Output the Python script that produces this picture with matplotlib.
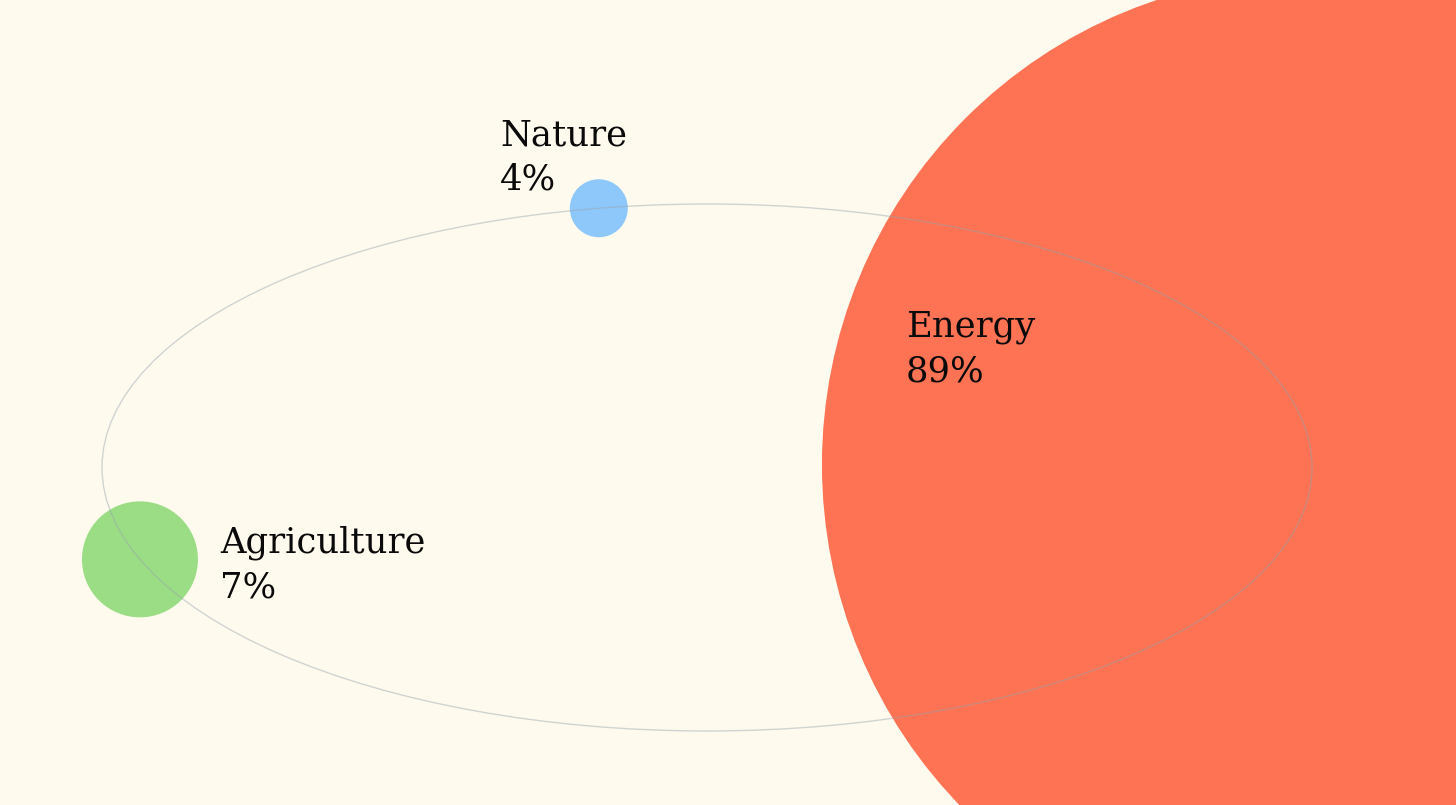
import numpy as np
import matplotlib.pyplot as plt
from matplotlib.patches import Circle, Ellipse

# ---------------- DATA ----------------
labels = ["Energy", "Nature", "Agriculture"]
values = [89, 4, 7]

# ---------------- LAYOUT / STYLE ----------------
colors = ["#FD7354", "#8EC8FA", "#9BDD85"]
radii = [490, 29, 58]                 # px
angles = [0.6, 100.3, 200.4]          # degrees on the orbit (y up)
label_pos = [(906, 336), (500, 145), (220, 552)]   # text left / baseline

BG = "#FEFBEE"
W, H = 1456, 805
orbit_cx, orbit_cy = 707, 467.5
orbit_a, orbit_b = 605, 263.5
line_gap = 45

fig = plt.figure(figsize=(W / 100, H / 100), dpi=100, facecolor=BG)
ax = fig.add_axes([0, 0, 1, 1])
ax.set_facecolor(BG)
ax.set_xlim(0, W)
ax.set_ylim(H, 0)
ax.set_aspect("equal")
ax.axis("off")

# bubbles sitting on the orbit
for r, ang, col in zip(radii, angles, colors):
    t = np.deg2rad(ang)
    x = orbit_cx + orbit_a * np.cos(t)
    y = orbit_cy - orbit_b * np.sin(t)
    ax.add_patch(Circle((x, y), r, facecolor=col, edgecolor="none", zorder=1))

# orbit on top, faint
ax.add_patch(Ellipse((orbit_cx, orbit_cy), 2 * orbit_a, 2 * orbit_b,
                     facecolor="none", edgecolor="#98A4AE", alpha=0.45,
                     linewidth=1.0, zorder=2))

# labels
for lab, val, (tx, ty) in zip(labels, values, label_pos):
    ax.text(tx, ty, lab, fontsize=25.5, family="DejaVu Serif",
            color="#0A0A0A", va="baseline", ha="left", zorder=3)
    ax.text(tx, ty + line_gap, f"{val}%", fontsize=25.5, family="DejaVu Serif",
            color="#0A0A0A", va="baseline", ha="left", zorder=3)

fig.savefig("out.png", dpi=100, facecolor=BG)
